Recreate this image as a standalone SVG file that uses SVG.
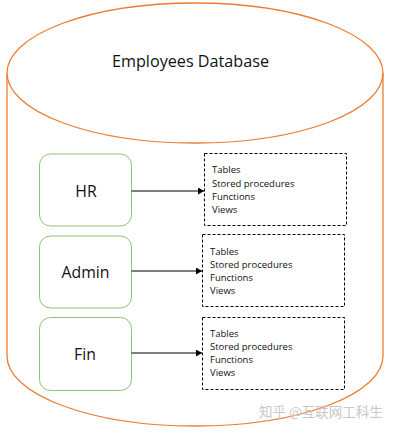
<svg xmlns="http://www.w3.org/2000/svg" width="393" height="433" viewBox="0 0 393 433">
<style>
.cyl{fill:#fff;stroke:#ED7D31;stroke-width:1.3}
.grp{fill:#fff;stroke:#8FC472;stroke-width:1}
.lst{fill:#fff;stroke:#000;stroke-width:1;stroke-dasharray:3,2}
.big{font-family:"Open Sans","Liberation Sans",sans-serif;font-size:15.8px;fill:#111;text-anchor:middle}
.ttl{font-family:"Open Sans","Liberation Sans",sans-serif;font-size:16.2px;fill:#111;text-anchor:middle}
.sm{font-family:"Open Sans","Liberation Sans",sans-serif;font-size:9.5px;fill:#111}
.wm{font-family:"Noto Sans CJK SC",sans-serif;font-size:13.5px;fill:#c8c8c8}
.con{stroke:#000;stroke-width:1;fill:none}
</style>
<defs>
<marker id="ah" markerWidth="7" markerHeight="7" refX="6" refY="3.5" orient="auto" markerUnits="userSpaceOnUse">
<path d="M0,0 L6,3.5 L0,7 Z" fill="#000"/>
</marker>
</defs>
<g id="database">
<path class="cyl" d="M7,73 L7,356 A188,70 0 0 0 383,356 L383,73"/>
<ellipse class="cyl" cx="195" cy="73" rx="188" ry="70"/>
<text class="ttl" x="190.5" y="67">Employees Database</text>
</g>
<g id="hr">
<rect class="grp" x="39.5" y="154" width="92" height="72" rx="11"/>
<text class="big" x="86" y="197">HR</text>
</g>
<g id="admin">
<rect class="grp" x="39.5" y="236" width="92" height="72" rx="11"/>
<text class="big" x="85.5" y="278">Admin</text>
</g>
<g id="fin">
<rect class="grp" x="39.5" y="317.5" width="92" height="73" rx="11"/>
<text class="big" x="85" y="360">Fin</text>
</g>
<g id="hr-objects">
<rect class="lst" x="204.5" y="153.5" width="142" height="72"/>
<text class="sm" x="212" y="173">Tables</text>
<text class="sm" x="212" y="187">Stored procedures</text>
<text class="sm" x="212" y="200">Functions</text>
<text class="sm" x="212" y="213">Views</text>
</g>
<g id="admin-objects">
<rect class="lst" x="202.5" y="234.5" width="142" height="72"/>
<text class="sm" x="210" y="255">Tables</text>
<text class="sm" x="210" y="268">Stored procedures</text>
<text class="sm" x="210" y="281">Functions</text>
<text class="sm" x="210" y="294">Views</text>
</g>
<g id="fin-objects">
<rect class="lst" x="202.5" y="317.5" width="142" height="72"/>
<text class="sm" x="210" y="337">Tables</text>
<text class="sm" x="210" y="350">Stored procedures</text>
<text class="sm" x="210" y="363">Functions</text>
<text class="sm" x="210" y="376">Views</text>
</g>
<g id="connectors">
<line class="con" x1="131.5" y1="191" x2="204" y2="191" marker-end="url(#ah)"/>
<line class="con" x1="131.5" y1="271" x2="202" y2="271" marker-end="url(#ah)"/>
<line class="con" x1="131.5" y1="353" x2="202" y2="353" marker-end="url(#ah)"/>
</g>
<text class="wm" x="259" y="417">知乎 @互联网工科生</text>
</svg>
